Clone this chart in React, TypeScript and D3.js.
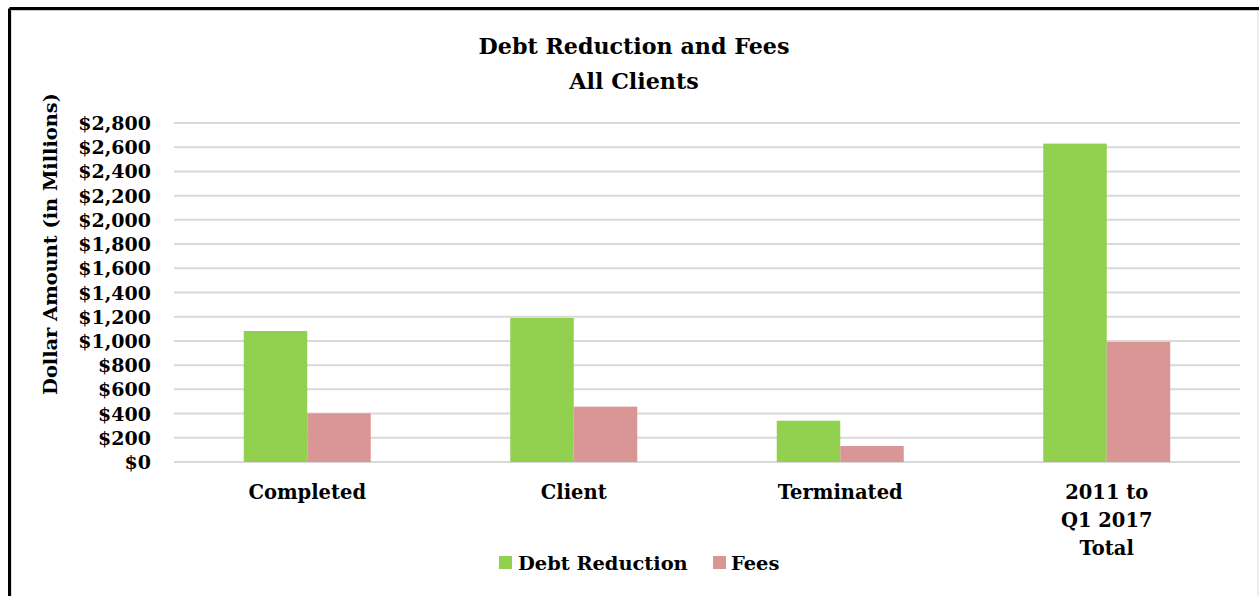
import React from "react";
import * as d3 from "d3";

const categories = ["Completed", "Client", "Terminated", "2011 to Q1 2017 Total"];
const categoryLines = [["Completed"], ["Client"], ["Terminated"], ["2011 to", "Q1 2017", "Total"]];
const seriesNames = ["Debt Reduction", "Fees"];
const debtReduction = [1082, 1190, 341, 2630];
const fees = [402, 457, 132, 992];
const yTicks = [0, 200, 400, 600, 800, 1000, 1200, 1400, 1600, 1800, 2000, 2200, 2400, 2600, 2800];
const colors = ["#92D050", "#DA9694"];

const W = 1259;
const H = 596;
const FONT = "'DejaVu Serif', serif";

export default function App() {
  const left = 174, right = 1240, top = 123, bottom = 462;
  const x0 = d3.scaleBand().domain(categories).range([left, right]).paddingInner(0.5235).paddingOuter(0.26175);
  const x1 = d3.scaleBand().domain(seriesNames).range([0, x0.bandwidth()]);
  const y = d3.scaleLinear().domain([0, 2800]).range([bottom, top]);
  const fmt = (v: number) => "$" + d3.format(",")(v);
  const series = [debtReduction, fees];

  return (
    <svg width={W} height={H} style={{ position: "absolute", left: 0, top: 0, background: "#fff" }} fontFamily={FONT} fontWeight="bold">
      <rect x={0} y={0} width={W} height={H} fill="#fff" />
      {/* frame */}
      <line x1={9.5} y1={8.5} x2={W} y2={8.5} stroke="#000" strokeWidth={3} />
      <line x1={9.5} y1={8.5} x2={9.5} y2={H} stroke="#000" strokeWidth={3} />
      <line x1={11.5} y1={10.5} x2={W} y2={10.5} stroke="#ccc" strokeWidth={1} />
      <line x1={11.5} y1={10.5} x2={11.5} y2={H} stroke="#ddd" strokeWidth={1} />
      <line x1={1258} y1={10} x2={1258} y2={H} stroke="#ddd" strokeWidth={1} />

      {/* title */}
      <text x={634} y={54} textAnchor="middle" fontSize={22.2} fill="#000">Debt Reduction and Fees</text>
      <text x={634} y={89} textAnchor="middle" fontSize={22.2} fill="#000">All Clients</text>

      {/* gridlines */}
      {yTicks.map((t) => (
        <line key={"g" + t} x1={left} x2={right} y1={y(t)} y2={y(t)} stroke="#D9D9D9" strokeWidth={2} />
      ))}

      {/* y labels */}
      {yTicks.map((t) => (
        <text key={"l" + t} x={151} y={y(t) + 7} textAnchor="end" fontSize={19} fill="#000">{fmt(t)}</text>
      ))}

      {/* y title */}
      <text transform={`translate(57,244) rotate(-90)`} textAnchor="middle" fontSize={19.4} fill="#000">Dollar Amount (in Millions)</text>

      {/* bars */}
      {categories.map((c, i) => (
        <g key={c} transform={`translate(${x0(c)},0)`}>
          {seriesNames.map((s, j) => (
            <rect key={s} x={x1(s)} y={y(series[j][i])} width={x1.bandwidth()} height={y(0) - y(series[j][i])} fill={colors[j]} />
          ))}
        </g>
      ))}

      {/* x labels */}
      {categories.map((c, i) => (
        <text key={"x" + c} x={(x0(c) as number) + x0.bandwidth() / 2} textAnchor="middle" fontSize={19.5} fill="#000">
          {categoryLines[i].map((ln, k) => (
            <tspan key={k} x={(x0(c) as number) + x0.bandwidth() / 2} y={499 + k * 28}>{ln}</tspan>
          ))}
        </text>
      ))}

      {/* legend */}
      <rect x={499} y={556} width={13} height={13} fill={colors[0]} />
      <text x={518} y={570} fontSize={19.4} fill="#000">{seriesNames[0]}</text>
      <rect x={713} y={556} width={13} height={13} fill={colors[1]} />
      <text x={731} y={570} fontSize={19.4} fill="#000">{seriesNames[1]}</text>
    </svg>
  );
}
